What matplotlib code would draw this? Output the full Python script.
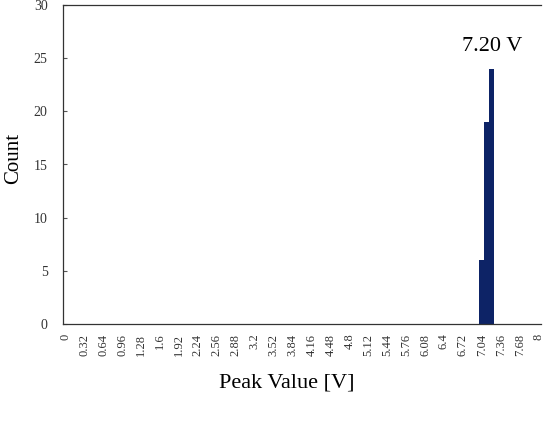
import matplotlib
matplotlib.use("Agg")
import matplotlib.pyplot as plt

bin_centers = [7.04, 7.12, 7.20]
counts = [6, 19, 24]
bin_width = 0.08
tick_values = [0, 0.32, 0.64, 0.96, 1.28, 1.6, 1.92, 2.24, 2.56, 2.88, 3.2, 3.52, 3.84,
               4.16, 4.48, 4.8, 5.12, 5.44, 5.76, 6.08, 6.4, 6.72, 7.04, 7.36, 7.68, 8]
tick_labels = ["0", "0.32", "0.64", "0.96", "1.28", "1.6", "1.92", "2.24", "2.56", "2.88",
               "3.2", "3.52", "3.84", "4.16", "4.48", "4.8", "5.12", "5.44", "5.76", "6.08",
               "6.4", "6.72", "7.04", "7.36", "7.68", "8"]
y_ticks = [0, 5, 10, 15, 20, 25, 30]
peak_label = "7.20 V"
peak_pos = 7.22

plt.rcParams['font.family'] = ['Liberation Serif', 'DejaVu Serif']

fig = plt.figure(figsize=(5.49, 4.23), dpi=100)
ax = fig.add_axes([63/549, 1-324/423, (541-63)/549, (324-5)/423])

ax.bar(bin_centers, counts, width=bin_width, color='#0d2366', edgecolor='none')
ax.set_xlim(-0.04, 8.04)
ax.set_ylim(0, 30)
ax.set_xticks(tick_values)
ax.set_xticklabels(tick_labels, rotation=90, fontsize=9, color='#333333')
ax.set_yticks(y_ticks)
ax.set_yticklabels([str(v) for v in y_ticks], fontsize=10, color='#333333')
ax.tick_params(axis='x', length=0, pad=7)
ax.tick_params(axis='y', direction='in', length=3, pad=11, color='#555555')
for s in ['left', 'bottom', 'top']:
    ax.spines[s].set_color('#333333')
    ax.spines[s].set_linewidth(0.9)
ax.spines['right'].set_visible(False)

ax.set_ylabel("Count", fontsize=15, va='center')
ax.yaxis.set_label_coords(-0.1025, 0.52)
fig.text(287/549, 1-383/423, "Peak Value [V]", fontsize=16, ha='center', va='center')
ax.text(peak_pos, 26.1, peak_label, ha='center', va='center', fontsize=16)

fig.savefig("out.png", dpi=100)
